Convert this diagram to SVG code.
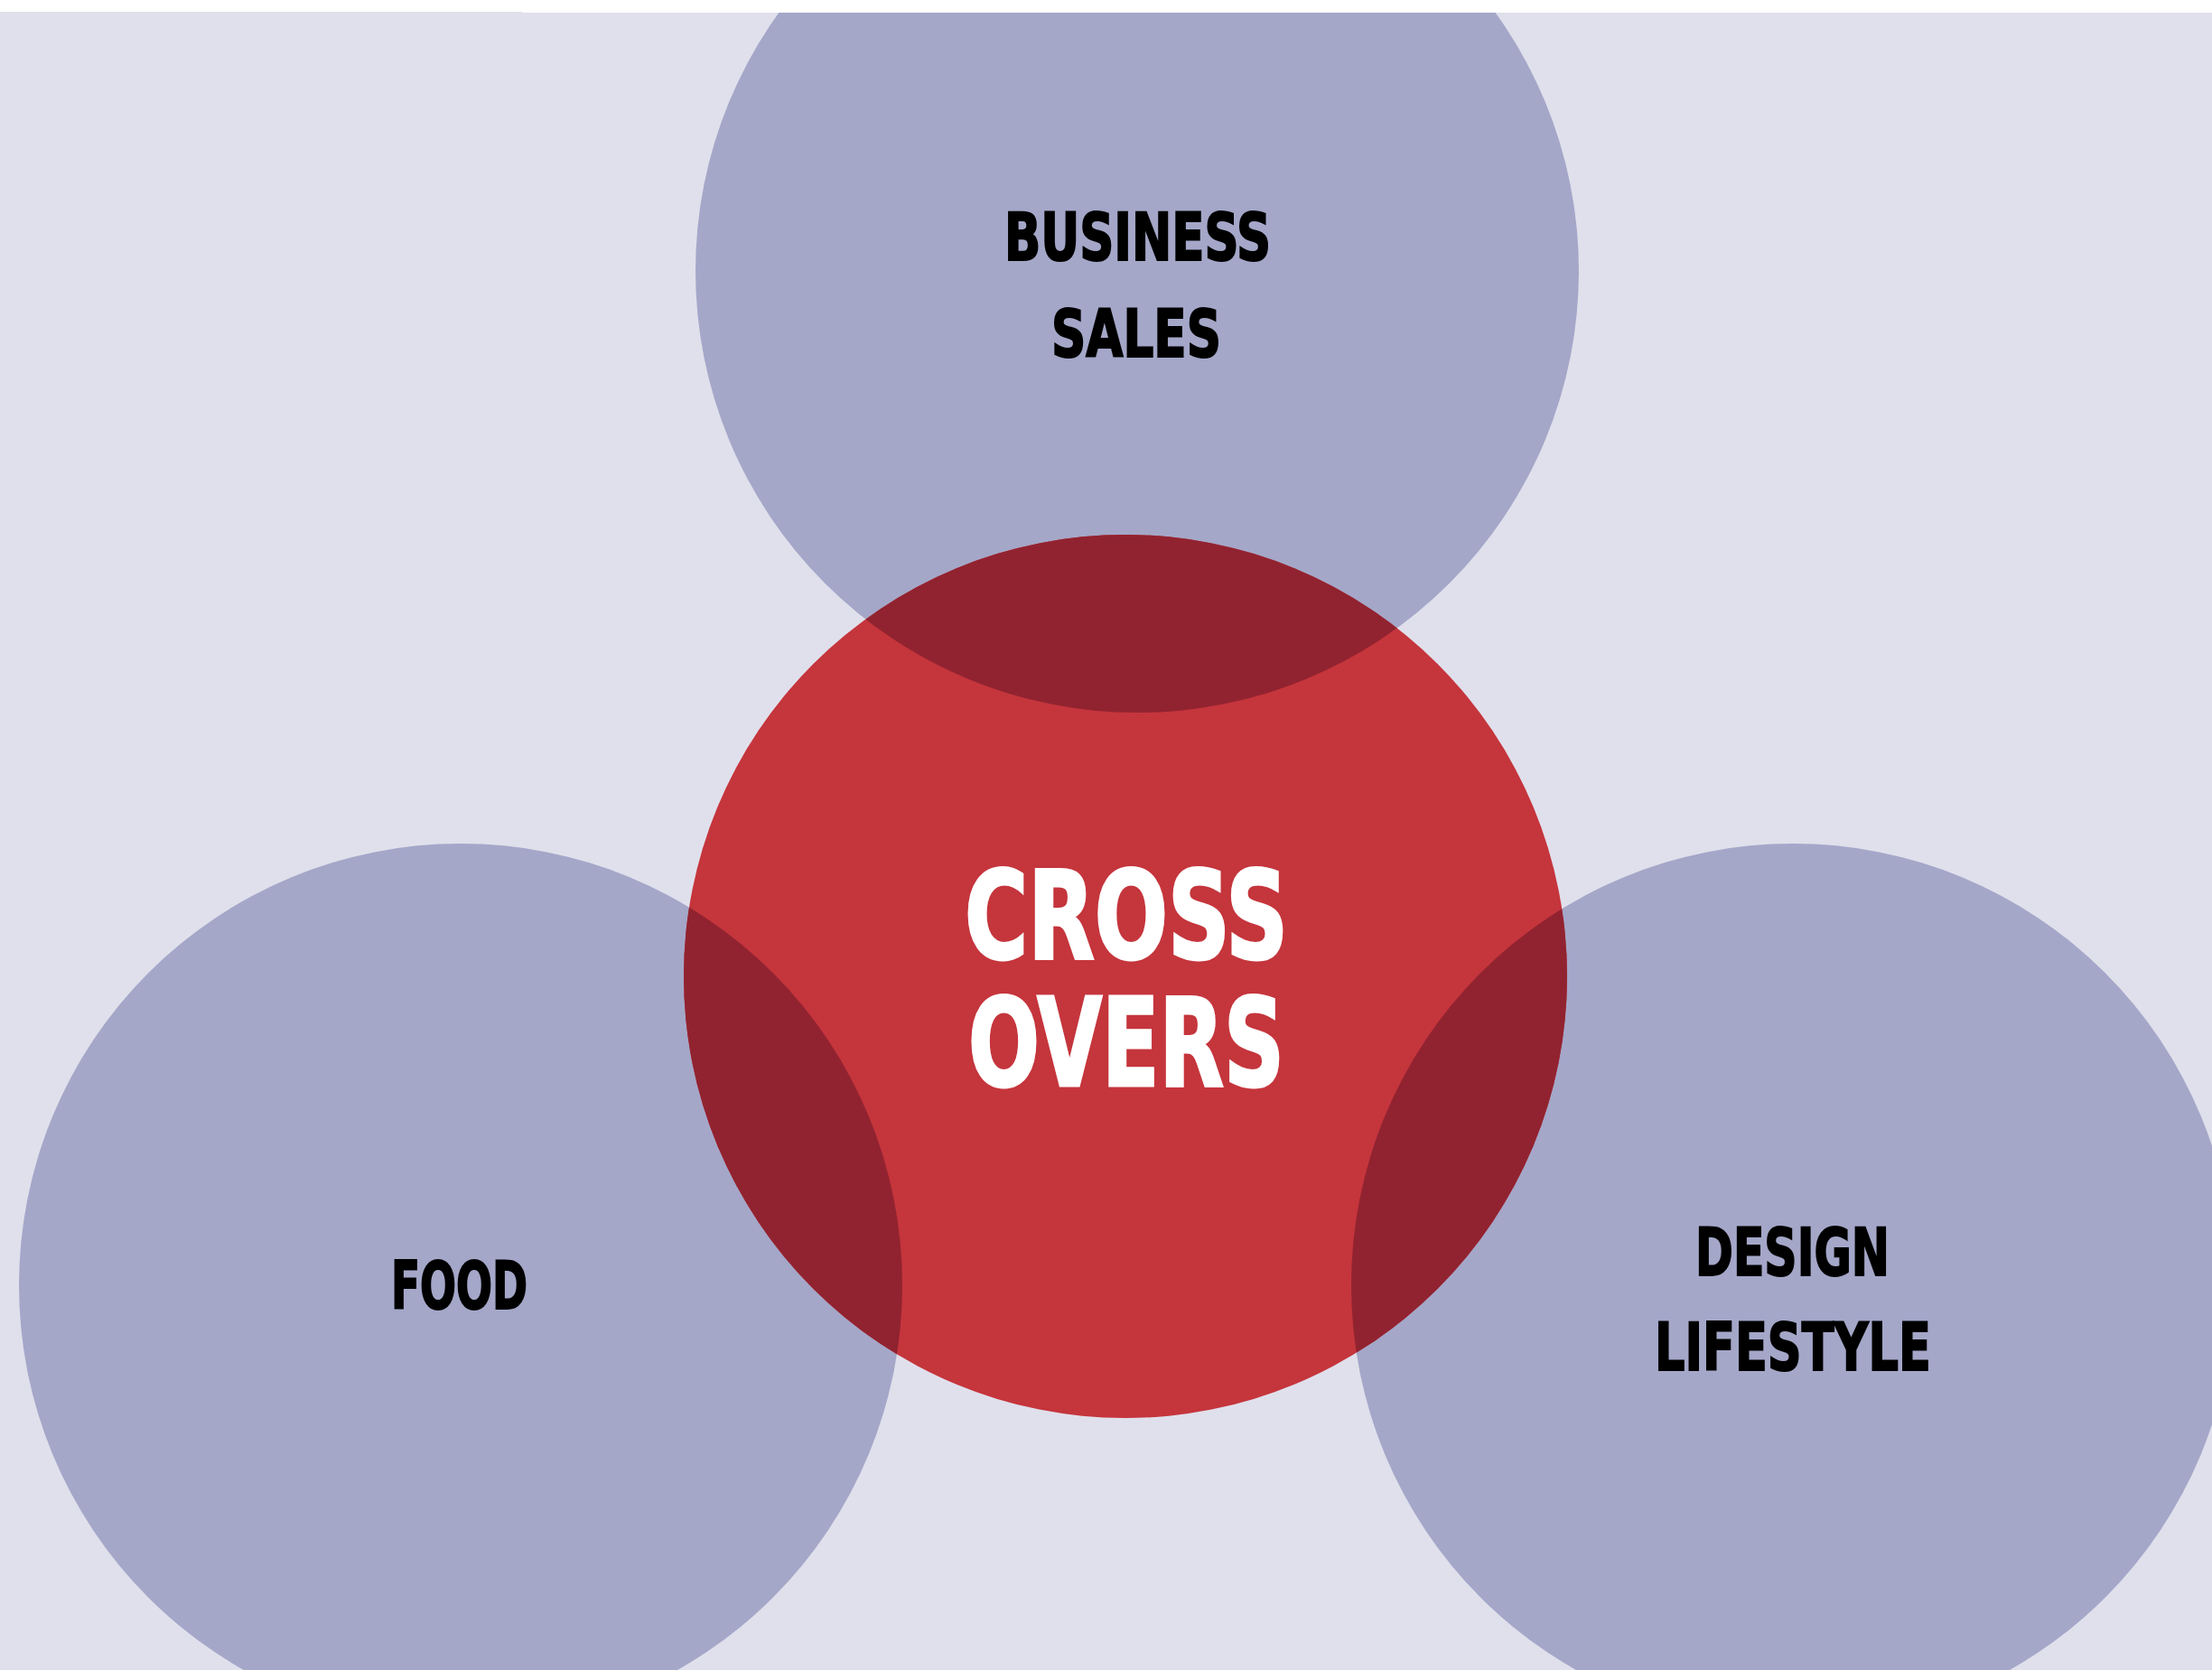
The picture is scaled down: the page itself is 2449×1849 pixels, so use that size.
<svg xmlns="http://www.w3.org/2000/svg" width="2449" height="1849" viewBox="0 0 2449 1849">
<style>
.blue{fill:#a4a7c8}
.red{fill:#c5353c}
.dark{fill:#912330}
.lbl{font-family:"DejaVu Sans","Liberation Sans",Arial,sans-serif;font-weight:bold;font-stretch:condensed;fill:#000;stroke:#000;stroke-width:2;font-size:73px}
.big{font-family:"DejaVu Sans","Liberation Sans",Arial,sans-serif;font-weight:bold;font-stretch:condensed;fill:#fff;stroke:#fff;stroke-width:3;font-size:135px}
</style>
<defs>
<clipPath id="redclip"><circle cx="1246" cy="1081" r="489"/></clipPath>
</defs>
<rect x="0" y="0" width="2449" height="1849" fill="#fff"/>
<rect x="0" y="13" width="578" height="1836" fill="#e0e0ec"/>
<rect x="578" y="14" width="1871" height="1835" fill="#e0e0ec"/>
<g id="node-business">
<circle class="blue" cx="1259" cy="300" r="489"/>
<text class="lbl" x="1112" y="288" textLength="295" lengthAdjust="spacingAndGlyphs">BUSINESS</text>
<text class="lbl" x="1164" y="395" textLength="188" lengthAdjust="spacingAndGlyphs">SALES</text>
</g>
<g id="node-food">
<circle class="blue" cx="510" cy="1423" r="489"/>
<text class="lbl" x="433" y="1449" textLength="151" lengthAdjust="spacingAndGlyphs">FOOD</text>
</g>
<g id="node-design">
<circle class="blue" cx="1985" cy="1423" r="489"/>
</g>
<g id="node-crossovers">
<circle class="red" cx="1246" cy="1081" r="489"/>
<g clip-path="url(#redclip)">
<circle class="dark" cx="1259" cy="300" r="489"/>
<circle class="dark" cx="510" cy="1423" r="489"/>
<circle class="dark" cx="1985" cy="1423" r="489"/>
</g>
<text class="big" x="1068" y="1061" textLength="358" lengthAdjust="spacingAndGlyphs">CROSS</text>
<text class="big" x="1072" y="1202" textLength="350" lengthAdjust="spacingAndGlyphs">OVERS</text>
</g>
<g id="node-design-text">
<text class="lbl" x="1877" y="1412" textLength="215" lengthAdjust="spacingAndGlyphs">DESIGN</text>
<text class="lbl" x="1832" y="1517" textLength="306" lengthAdjust="spacingAndGlyphs">LIFESTYLE</text>
</g>
<g id="connectors"></g>
<rect x="0" y="0" width="2449" height="13" fill="#fff"/>
<rect x="578" y="13" width="1871" height="1" fill="#fff"/>
</svg>
